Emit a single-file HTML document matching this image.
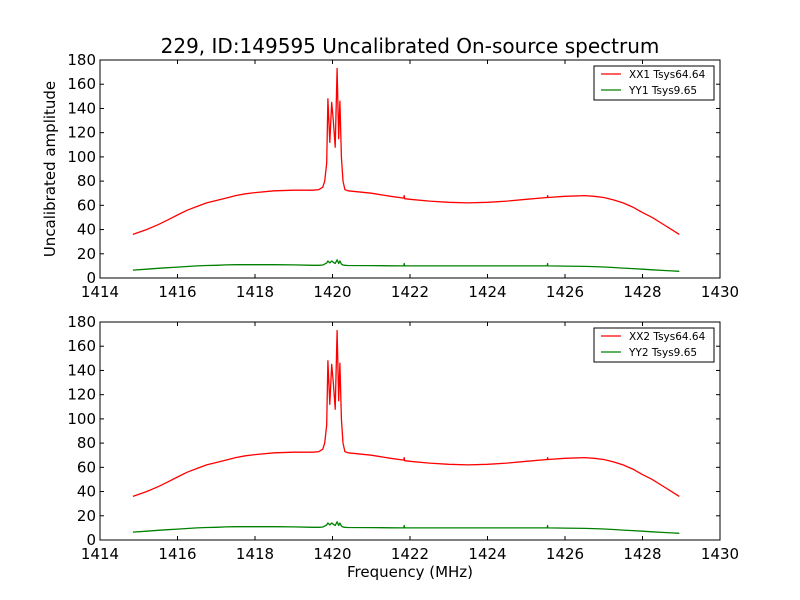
<!DOCTYPE html>
<html><head><meta charset="utf-8"><style>
body{margin:0;background:#fff}
svg{display:block;font-family:"DejaVu Sans","Liberation Sans",sans-serif}
</style></head><body>
<svg id="c" width="800" height="600"></svg>
<script>
const freqs=[1414.85,1415.2,1415.5,1415.75,1416,1416.25,1416.5,1416.75,1417,1417.25,1417.5,1417.75,1418,1418.5,1419,1419.5,1419.65,1419.75,1419.8,1419.85,1419.88,1419.93,1419.98,1420.02,1420.07,1420.12,1420.16,1420.19,1420.23,1420.27,1420.32,1420.4,1421,1421.5,1421.84,1421.85,1421.86,1422,1422.5,1423,1423.5,1424,1424.5,1425,1425.54,1425.55,1425.56,1426,1426.5,1426.75,1427,1427.25,1427.5,1427.75,1428,1428.25,1428.5,1428.75,1428.95];
const xxVals=[36,40,44,48,52,56,59,62,64,66,68,69.5,70.5,72,72.5,72.5,73,75,80,95,148,112,145,130,108,173,115,146,100,80,73,72,70,67.5,66,68,65.5,65,63.5,62.5,62,62.5,63.5,65,66.5,68,66.5,67.5,68,67.5,66.5,64.5,62,58.5,54,50,45,40,36];
const yyVals=[6.5,7.3,8,8.5,9,9.5,10,10.3,10.5,10.8,11,11,11,11,10.8,10.5,10.5,10.7,11.5,12.5,14,12.5,14,13,12,15,12,14,11.5,10.7,10.5,10.3,10.2,10.1,10,12,10,10,10,10,10,10,10,10,10,12,10,9.8,9.6,9.4,9.1,8.7,8.2,7.8,7.3,6.8,6.3,5.9,5.5];
const xTicks=[1414,1416,1418,1420,1422,1424,1426,1428,1430];
const yTicks=[0,20,40,60,80,100,120,140,160,180];
const panels=[{top:60,l1:"XX1 Tsys64.64",l2:"YY1 Tsys9.65"},{top:322,l1:"XX2 Tsys64.64",l2:"YY2 Tsys9.65"}];
const svg=document.getElementById('c'),NS="http://www.w3.org/2000/svg";
function mk(t,a,p){const e=document.createElementNS(NS,t);for(const k in a)e.setAttribute(k,a[k]);(p||svg).appendChild(e);return e;}
const L=100,R=720,H=218;
const sx=f=>L+(f-1414)/(1430-1414)*(R-L);
const title=mk('text',{x:410,y:53,'text-anchor':'middle','font-size':20});title.textContent="229, ID:149595 Uncalibrated On-source spectrum";


panels.forEach((p,i)=>{
  const g=mk('g',{});
  
  
  const sy=v=>p.top+H-v/180*H;
  const pts=arr=>arr.map((v,j)=>sx(freqs[j]).toFixed(1)+','+sy(v).toFixed(1)).join(' ');
  const lx=mk('polyline',{points:pts(xxVals),fill:'none',stroke:'#ff0000','stroke-width':1.3,'stroke-linejoin':'round'},g);
  
  
  const ly=mk('polyline',{points:pts(yyVals),fill:'none',stroke:'#008000','stroke-width':1.3,'stroke-linejoin':'round'},g);
  
  
  mk('rect',{x:L,y:p.top,width:R-L,height:H,fill:'none',stroke:'#000','stroke-width':1},g);
  xTicks.forEach(t=>{const x=sx(t);
    mk('line',{x1:x,x2:x,y1:p.top+H,y2:p.top+H-4,stroke:'#000'},g);
    mk('line',{x1:x,x2:x,y1:p.top,y2:p.top+4,stroke:'#000'},g);
    const tx=mk('text',{x:x,y:p.top+H+19,'text-anchor':'middle','font-size':15},g);tx.textContent=t;
    
    });
  yTicks.forEach(t=>{const y=sy(t);
    mk('line',{x1:L,x2:L+4,y1:y,y2:y,stroke:'#000'},g);
    mk('line',{x1:R,x2:R-4,y1:y,y2:y,stroke:'#000'},g);
    const tx=mk('text',{x:L-4,y:y+5,'text-anchor':'end','font-size':15},g);tx.textContent=t;
    
    });
  const lg=mk('g',{},g);
  
  
  mk('rect',{x:594,y:p.top+6,width:120,height:34,fill:'#fff',stroke:'#000','stroke-width':1},lg);
  mk('line',{x1:601,x2:621,y1:p.top+14,y2:p.top+14,stroke:'#ff0000','stroke-width':1.3},lg);
  mk('line',{x1:601,x2:621,y1:p.top+30,y2:p.top+30,stroke:'#008000','stroke-width':1.3},lg);
  const t1=mk('text',{x:629,y:p.top+18,'font-size':10.5},lg);t1.textContent=p.l1;
  const t2=mk('text',{x:629,y:p.top+34,'font-size':10.5},lg);t2.textContent=p.l2;
});
const yl=mk('text',{x:0,y:0,'text-anchor':'middle','font-size':15,transform:'translate(55,169) rotate(-90)'});yl.textContent="Uncalibrated amplitude";


const xl=mk('text',{x:410,y:577,'text-anchor':'middle','font-size':15});xl.textContent="Frequency (MHz)";


</script>
</body></html>
